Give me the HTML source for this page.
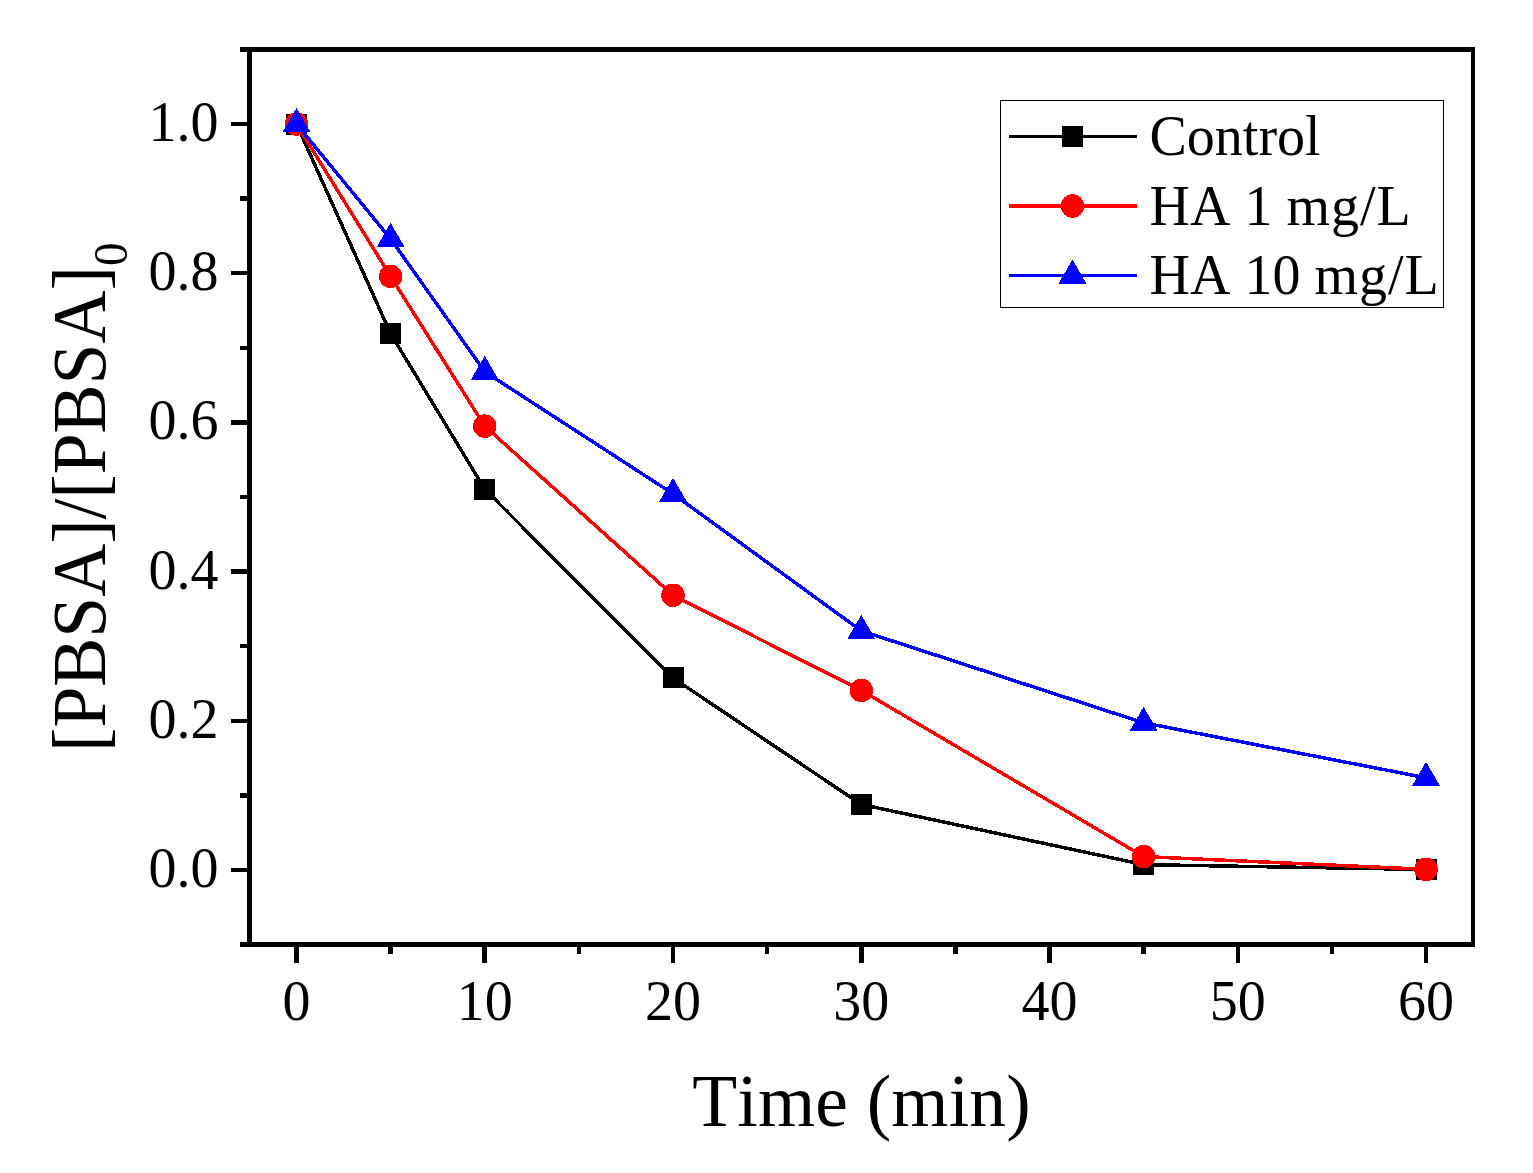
<!DOCTYPE html>
<html lang="en"><head><meta charset="utf-8"><title>PBSA degradation</title>
<style>html,body{margin:0;padding:0;background:#fff}body{width:1533px;height:1173px;overflow:hidden}svg{display:block}text{font-kerning:none;font-variant-ligatures:none;font-family:"Liberation Serif","Times New Roman",serif;fill:#000}</style></head><body>
<svg width="1533" height="1173" viewBox="0 0 1533 1173">
<rect width="1533" height="1173" fill="#fff"/>
<g fill="#000" shape-rendering="crispEdges">
<rect x="247" y="47" width="5" height="900"/>
<rect x="1471" y="47" width="4" height="900"/>
<rect x="247" y="47" width="1228" height="5"/>
<rect x="247" y="942" width="1228" height="5"/>
<rect x="240" y="942" width="8" height="5"/>
<rect x="231" y="868" width="17" height="4"/>
<rect x="240" y="793" width="8" height="5"/>
<rect x="231" y="719" width="17" height="4"/>
<rect x="240" y="644" width="8" height="4"/>
<rect x="231" y="569" width="17" height="5"/>
<rect x="240" y="495" width="8" height="4"/>
<rect x="231" y="420" width="17" height="5"/>
<rect x="240" y="346" width="8" height="4"/>
<rect x="231" y="271" width="17" height="4"/>
<rect x="240" y="196" width="8" height="5"/>
<rect x="231" y="122" width="17" height="4"/>
<rect x="240" y="47" width="8" height="5"/>
<rect x="294" y="946" width="5" height="17"/>
<rect x="388" y="946" width="5" height="8"/>
<rect x="482" y="946" width="5" height="17"/>
<rect x="577" y="946" width="4" height="8"/>
<rect x="671" y="946" width="4" height="17"/>
<rect x="765" y="946" width="4" height="8"/>
<rect x="859" y="946" width="5" height="17"/>
<rect x="953" y="946" width="5" height="8"/>
<rect x="1047" y="946" width="5" height="17"/>
<rect x="1141" y="946" width="5" height="8"/>
<rect x="1236" y="946" width="4" height="17"/>
<rect x="1330" y="946" width="4" height="8"/>
<rect x="1424" y="946" width="4" height="17"/>
</g>
<g font-size="56">
<text x="218.5" y="887" text-anchor="end">0.0</text>
<text x="218.5" y="737.8" text-anchor="end">0.2</text>
<text x="218.5" y="588.6" text-anchor="end">0.4</text>
<text x="218.5" y="439.4" text-anchor="end">0.6</text>
<text x="218.5" y="290.2" text-anchor="end">0.8</text>
<text x="218.5" y="141" text-anchor="end">1.0</text>
<text x="296.5" y="1019.5" text-anchor="middle">0</text>
<text x="484.75" y="1019.5" text-anchor="middle">10</text>
<text x="673" y="1019.5" text-anchor="middle">20</text>
<text x="861.25" y="1019.5" text-anchor="middle">30</text>
<text x="1049.5" y="1019.5" text-anchor="middle">40</text>
<text x="1237.75" y="1019.5" text-anchor="middle">50</text>
<text x="1426" y="1019.5" text-anchor="middle">60</text>
</g>
<text x="861.6" y="1126" font-size="73.5" text-anchor="middle" letter-spacing="0.2">Time (min)</text>
<text transform="translate(105 752) rotate(-90) scale(1 1.04)" font-size="73.5">[PBSA]/[PBSA]<tspan font-size="47" dy="21.2">0</tspan></text>
<g shape-rendering="crispEdges">
<polyline points="296.50,124.00 390.62,333.63 484.75,489.17 673.00,677.90 861.25,804.43 1143.62,864.63 1426.00,869.48" fill="none" stroke="#000" stroke-width="3.5" stroke-linejoin="round"/>
<rect x="286.0" y="113.5" width="21" height="21" fill="#000"/>
<rect x="380.1" y="323.1" width="21" height="21" fill="#000"/>
<rect x="474.2" y="478.7" width="21" height="21" fill="#000"/>
<rect x="662.5" y="667.4" width="21" height="21" fill="#000"/>
<rect x="850.8" y="793.9" width="21" height="21" fill="#000"/>
<rect x="1133.1" y="854.1" width="21" height="21" fill="#000"/>
<rect x="1415.5" y="859.0" width="21" height="21" fill="#000"/>
<polyline points="296.50,124.00 390.62,276.41 484.75,426.13 673.00,595.32 861.25,690.36 1143.62,856.57 1426.00,869.33" fill="none" stroke="#f00" stroke-width="3.5" stroke-linejoin="round"/>
<circle cx="296.50" cy="124.00" r="11.75" fill="#f00"/>
<circle cx="390.62" cy="276.41" r="11.75" fill="#f00"/>
<circle cx="484.75" cy="426.13" r="11.75" fill="#f00"/>
<circle cx="673.00" cy="595.32" r="11.75" fill="#f00"/>
<circle cx="861.25" cy="690.36" r="11.75" fill="#f00"/>
<circle cx="1143.62" cy="856.57" r="11.75" fill="#f00"/>
<circle cx="1426.00" cy="869.33" r="11.75" fill="#f00"/>
<polyline points="296.50,124.00 390.62,238.88 484.75,371.67 673.00,493.79 861.25,630.83 1143.62,722.81 1426.00,777.79" fill="none" stroke="#00f" stroke-width="3.5" stroke-linejoin="round"/>
<polygon points="296.50,108.00 310.40,132.00 282.60,132.00" fill="#00f"/>
<polygon points="390.62,222.88 404.52,246.88 376.73,246.88" fill="#00f"/>
<polygon points="484.75,355.67 498.65,379.67 470.85,379.67" fill="#00f"/>
<polygon points="673.00,477.79 686.90,501.79 659.10,501.79" fill="#00f"/>
<polygon points="861.25,614.83 875.15,638.83 847.35,638.83" fill="#00f"/>
<polygon points="1143.62,706.81 1157.53,730.81 1129.72,730.81" fill="#00f"/>
<polygon points="1426.00,761.79 1439.90,785.79 1412.10,785.79" fill="#00f"/>
<rect x="1000.5" y="100.5" width="443" height="207" fill="#fff" stroke="#000" stroke-width="1"/>
<line x1="1009" y1="136.5" x2="1137" y2="136.5" stroke="#000" stroke-width="3.5"/>
<line x1="1009" y1="206" x2="1137" y2="206" stroke="#f00" stroke-width="3.5"/>
<line x1="1009" y1="275.5" x2="1137" y2="275.5" stroke="#00f" stroke-width="3.5"/>
<rect x="1062.0" y="126.0" width="21" height="21" fill="#000"/>
<circle cx="1072.50" cy="206.00" r="11.75" fill="#f00"/>
<polygon points="1072.50,259.50 1086.40,283.50 1058.60,283.50" fill="#00f"/>
</g>
<g font-size="56">
<text x="1149.5" y="155">Control</text>
<text x="1149.5" y="225">HA 1 <tspan letter-spacing="1">mg/L</tspan></text>
<text x="1149.5" y="294">HA 10 <tspan letter-spacing="1">mg/L</tspan></text>
</g>
</svg></body></html>
